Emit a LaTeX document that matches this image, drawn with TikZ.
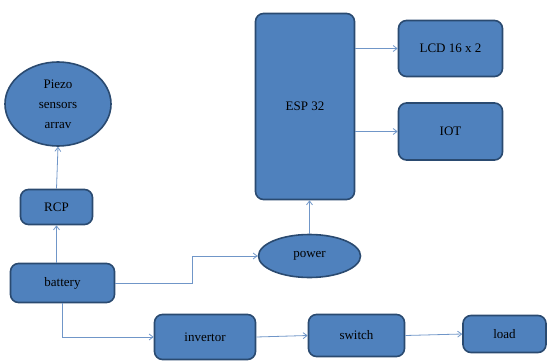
\documentclass[tikz,border=0pt]{standalone}
\usepackage{fontspec}
\setmainfont{Liberation Serif}
\usetikzlibrary{shapes.geometric}
\usetikzlibrary{arrows.meta, positioning}
\definecolor{boxblue}{HTML}{4F81BD}
\definecolor{boxedge}{HTML}{2A4A70}
\definecolor{linkblue}{HTML}{7096C8}

\begin{document}
\begin{tikzpicture}[x=1pt, y=-1pt, font=\fontsize{13}{20}\selectfont,
	blk/.style={draw=boxedge, line width=1.6pt, fill=boxblue, rounded corners=8pt,
		inner sep=0pt, align=center},
	oval/.style={draw=boxedge, line width=1.6pt, fill=boxblue, ellipse,
		inner sep=0pt, align=center},
	arr/.style={draw=linkblue, line width=0.8pt, -{Straight Barb[length=4pt,width=6pt]}}]
	\useasboundingbox (0,0) rectangle (548,361);
	\node[oval, minimum width=106pt, minimum height=84pt] (piezo) at (58, 104) {Piezo\\sensors\\arrav};
	\node[blk, minimum width=72pt, minimum height=35pt] (rcp) at (56.5, 207) {RCP};
	\node[blk, minimum width=104pt, minimum height=39pt] (battery) at (62.5, 283) {battery};
	\node[oval, minimum width=102pt, minimum height=43pt] (power) at (309.5, 256) {power};
	\node[blk, minimum width=99pt, minimum height=186pt] (esp) at (305, 106.5) {ESP 32};
	\node[blk, minimum width=104pt, minimum height=56pt] (lcd) at (450.5, 48.5) {LCD 16 x 2};
	\node[blk, minimum width=104pt, minimum height=57pt] (iot) at (450.5, 131.5) {IOT};
	\node[blk, minimum width=101pt, minimum height=45pt] (invertor) at (205, 337) {invertor};
	\node[blk, minimum width=96pt, minimum height=42pt] (switch) at (356.5, 335.5) {switch};
	\node[blk, minimum width=83pt, minimum height=37pt] (load) at (504.5, 334) {load};
	\coordinate (turn) at (192, 283);
	% links
	\draw[arr] (battery.north -| rcp.south) -- (rcp.south);
	\draw[arr] (rcp.north) -- (piezo.south);
	\draw[arr] (battery.east) -- (turn) |- (power.west);
	\draw[arr] (power.north) -- (power.north |- esp.south);
	\draw[arr] (esp.east |- lcd.west) -- (lcd.west);
	\draw[arr] (esp.east |- iot.west) -- (iot.west);
	\draw[arr] (battery.south) |- (invertor.west);
	\draw[arr] (invertor.east) -- (switch.west);
	\draw[arr] (switch.east) -- (load.west);
\end{tikzpicture}
\end{document}
